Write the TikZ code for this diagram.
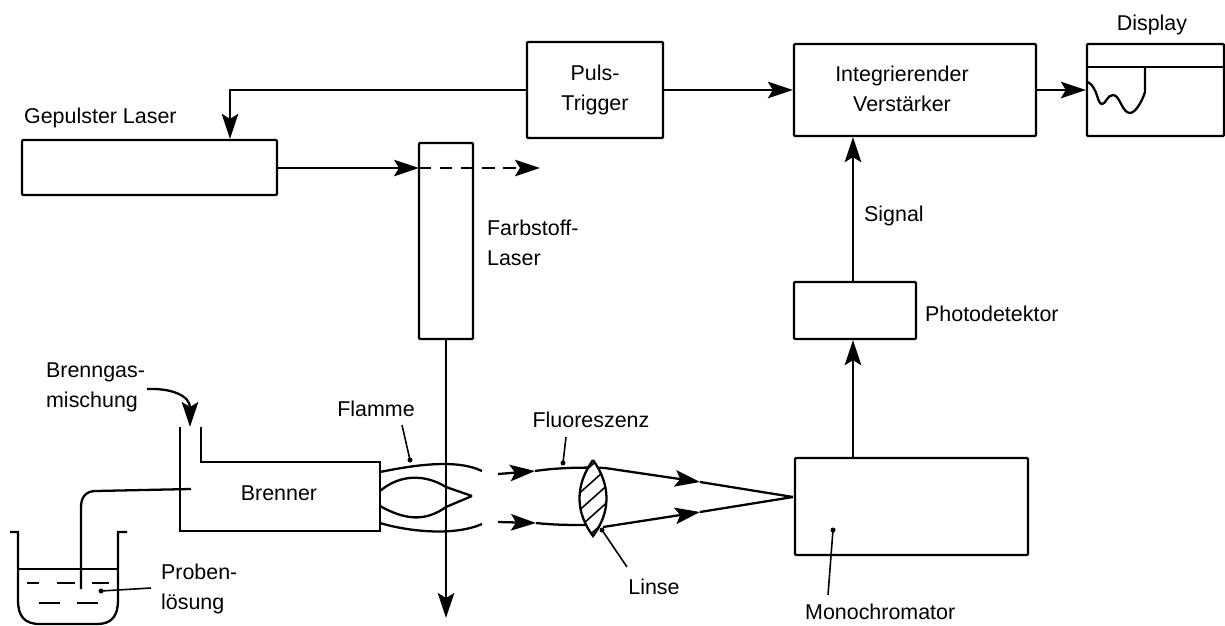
\documentclass[tikz,border=0pt]{standalone}
\usepackage{fontspec}
\setmainfont{Liberation Sans}
\usetikzlibrary{arrows.meta}

\begin{document}
\begin{tikzpicture}[x=0.02cm, y=-0.02cm, line width=1.3pt,
  every node/.style={font=\fontsize{12.2}{17}\selectfont, align=center, inner sep=0pt},
  box/.style={draw, rectangle, rounded corners=0.5pt},
  tag/.style={align=left, anchor=west},
  ray/.style={-{Stealth[length=5mm, width=3.3mm, inset=1mm]}},
  thin line/.style={line width=0.9pt}]

  \useasboundingbox (0,0) rectangle (1225,626);

  % Top row
  \node[box, minimum width=5.1cm, minimum height=1.1cm] (laser) at (149.5,167.5) {};
  \node[box, minimum width=2.72cm, minimum height=1.92cm, text width=2.7cm] (puls) at (595,90) {Puls-\\Trigger};
  \node[box, minimum width=4.84cm, minimum height=1.84cm] (verst) at (915,90) {};
  \node (verstlabel) at (902,88.5) {Integrierender\\Verstärker};
  \node[box, minimum width=2.74cm, minimum height=1.84cm] (display) at (1155.5,90) {};
  \node[tag] (laserlabel) at (23,118) {Gepulster Laser};
  \node (displaylabel) at (1152,25) {Display};

  % Display trace
  \coordinate (dispL) at (1087,67);
  \coordinate (dispR) at (1224,67);
  \draw (dispL) -- (dispR);
  \draw (1145,67) -- (1145,92) .. controls (1143,99) and (1136,113) .. (1130,113)
    .. controls (1122,113) and (1120,95) .. (1113,95)
    .. controls (1107,95) and (1106,104) .. (1102,104)
    .. controls (1097,104) and (1098,88) .. (1088,82);

  % Dye laser
  \node[box, minimum width=1.08cm, minimum height=3.92cm] (farb) at (446,241) {};
  \node[tag] (farblabel) at (486,243) {Farbstoff-\\Laser};
  \coordinate (corner) at (230,90);
  \coordinate (farbin) at (419,168);
  \coordinate (dashend) at (540,168);
  \coordinate (beamend) at (446,618);
  \draw[ray] (puls.west) -- (corner) -- (corner |- laser.north);
  \draw[ray] (puls.east) -- (verst.west);
  \draw[ray] (verst.east) -- (display.west);
  \draw[ray] (laser.east |- farbin) -- (farbin);
  \draw[ray, dash pattern=on 7pt off 5pt] (farbin) -- (dashend);
  \draw[ray] (farb.south) -- (beamend);

  % Detection path
  \node[box, minimum width=2.44cm, minimum height=1.14cm] (photo) at (855,310.5) {};
  \node[box, minimum width=4.66cm, minimum height=1.94cm] (mono) at (911.5,506.5) {};
  \node[tag] (photolabel) at (924,314) {Photodetektor};
  \node[tag] (signallabel) at (863,216) {Signal};
  \coordinate (monoup) at (853,458);
  \draw[ray] (monoup) -- (monoup |- photo.south);
  \draw[ray] (monoup |- photo.north) -- (monoup |- verst.south);
  \node[tag] (monolabel) at (804,612) {Monochromator};
  \coordinate (monodot) at (833,530);
  \coordinate (monoend) at (828,595);
  \fill (monodot) circle (2.5);
  \draw[thin line] (monodot) -- (monoend);

  % Burner
  \node (brenner) at (279,493) {Brenner};
  \draw (180,427) -- (180,531) -- (380,531) -- (380,462) -- (201,462) -- (201,427);
  \draw (191,489) -- (96,491) .. controls (86,491) and (81,497) .. (81,507) -- (81,589);
  \node[tag] (gaslabel) at (45,387) {Brenngas-\\mischung};
  \draw[ray] (147,389) .. controls (170,388) and (190,395) .. (190,427);

  % Sample beaker
  \draw (10,532) -- (18,532) -- (18,600) .. controls (18,617) and (25,624) .. (40,624)
    -- (97,624) .. controls (111,624) and (118,617) .. (118,600) -- (118,532) -- (127,532);
  \draw (19,569) -- (117,569);
  \foreach \xa/\xb/\ya in {27/39/583, 57/75/583, 92/109/583, 39/60/603, 77/98/603}
    \draw (\xa,\ya) -- (\xb,\ya);
  \node[tag] (probelabel) at (160,589) {Proben-\\lösung};
  \coordinate (probeend) at (151,588);
  \fill (101,591) circle (2.5);
  \draw[thin line] (101,591) -- (probeend);

  % Flame
  \draw (380,472) .. controls (410,466) and (455,458) .. (482,471);
  \draw (380,523) .. controls (410,532) and (455,536) .. (482,524);
  \draw (380,491) .. controls (400,474) and (425,474) .. (446,487) -- (472,496);
  \draw (380,506) .. controls (405,520) and (425,522) .. (446,507) -- (472,496);
  \node (flammelabel) at (376,409) {Flamme};
  \coordinate (flammedot) at (410,460);
  \fill (flammedot) circle (2.5);
  \draw[thin line] (402,425) -- (flammedot);

  % Fluorescence rays and lens
  \coordinate (focus) at (793,497);
  \coordinate (uppertip) at (700,482);
  \coordinate (lowertip) at (700,512);
  \draw[ray] (498,474) -- (535,471);
  \draw (535,471) .. controls (555,468) and (580,467) .. (605,468);
  \draw[ray] (605,468) -- (uppertip);
  \draw (uppertip) -- (focus);
  \draw[ray] (498,522) -- (536,523);
  \draw (536,523) .. controls (555,525) and (570,525) .. (586,525);
  \draw[ray] (603,527) -- (lowertip);
  \draw (lowertip) -- (focus);
  \draw[fill=white] (593,460) .. controls (575,485) and (575,512) .. (593,536)
    .. controls (611,512) and (611,485) .. (593,460);
  \begin{scope}
    \clip (593,460) .. controls (575,485) and (575,512) .. (593,536)
      .. controls (611,512) and (611,485) .. (593,460);
    \foreach \yc in {464,481,498,515,532}
      \draw[thin line] (565,\yc+25) -- (621,\yc-25);
  \end{scope}
  \node (fluorlabel) at (591,420) {Fluoreszenz};
  \coordinate (fluordot) at (563,463);
  \fill (fluordot) circle (2.5);
  \draw[thin line] (566,437) -- (fluordot);
  \node (linselabel) at (654,587) {Linse};
  \coordinate (linsedot) at (602,530);
  \fill (linsedot) circle (2.5);
  \draw[thin line] (627,567) -- (linsedot);
\end{tikzpicture}
\end{document}
